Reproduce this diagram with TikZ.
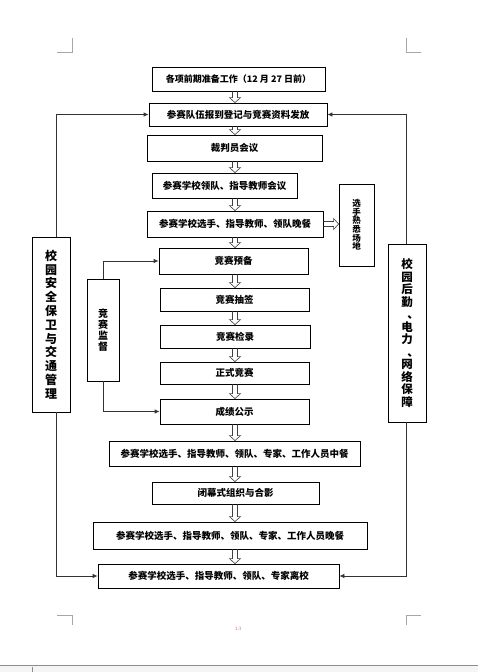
\documentclass[tikz,border=0pt]{standalone}
\usepackage{fontspec}
\newfontfamily\cjk{Noto Sans CJK SC}
\usetikzlibrary{arrows.meta,calc}
\definecolor{pgnum}{RGB}{200,110,100}
\begin{document}
\begin{tikzpicture}[x=1pt,y=-1pt,
  box/.style={draw=black, line width=0.8pt, fill=white, inner sep=0pt, align=center,
    font=\cjk\bfseries\fontsize{9.5}{11}\selectfont},
  vbox/.style={box, font=\cjk\bfseries\fontsize{12}{13.8}\selectfont},
  conn/.style={draw=black!80, line width=0.8pt, -{Latex[length=5pt,width=4.5pt]}},
  hollow/.style={draw=black!75, line width=0.6pt,
    to path={let \p1=(\tikztostart), \p2=(\tikztotarget), \p3=(ax) in
      (\x3-2.5pt,\y1) -- (\x3-2.5pt,\y2+5pt) -- (\x3-5.5pt,\y2+5pt) -- (\x3,\y2)
      -- (\x3+5.5pt,\y2+5pt) -- (\x3+2.5pt,\y2+5pt) -- (\x3+2.5pt,\y1)}},
  hollowh/.style={draw=black!75, line width=0.6pt,
    to path={let \p1=(\tikztostart), \p2=(\tikztotarget) in
      (\x1,\y1+2.5pt) -- (\x2-5pt,\y1+2.5pt) -- (\x2-5pt,\y1+5.5pt) -- (\x2,\y1)
      -- (\x2-5pt,\y1-5.5pt) -- (\x2-5pt,\y1-2.5pt) -- (\x1,\y1-2.5pt)}},
  cropm/.style={draw=black!35, line width=0.7pt}
]
\useasboundingbox (0,0) rectangle (478,672);
\fill[white] (0,0) rectangle (478,672);

% crop marks
\draw[cropm] (57,52) -- (72,52) -- (72,38);
\draw[cropm] (421,52) -- (406,52) -- (406,38);
\draw[cropm] (57,615) -- (72,615) -- (72,625);
\draw[cropm] (421,615) -- (406,615) -- (406,625);

% bottom status bar
\fill[black!4] (0,665) rectangle (478,672);
\draw[black!45, line width=0.6pt] (0,665) -- (478,665);
\draw[black!45, line width=0.6pt] (32,667) -- (32,672);

\coordinate (ax) at (235,0);
\coordinate (lx) at (56,0);
\coordinate (rx) at (406,0);

% main column
\node[box, font=\cjk\bfseries\fontsize{9}{11}\selectfont, minimum width=173, minimum height=24] (b1) at (238.5,79) {各项前期准备工作（12 月 27 日前）};
\node[box, minimum width=178, minimum height=23] (b2) at (238,114.5) {参赛队伍报到登记与竞赛资料发放};
\node[box, minimum width=175, minimum height=26] (b3) at (234.5,148) {裁判员会议};
\node[box, minimum width=145, minimum height=25] (b4) at (224.5,185.5) {参赛学校领队、指导教师会议};
\node[box, minimum width=176, minimum height=26] (b5) at (235,224) {参赛学校选手、指导教师、领队晚餐};
\node[box, font=\cjk\bfseries\fontsize{8.5}{8.6}\selectfont, minimum width=35, minimum height=82] (b6) at (356.5,225) {选\\手\\熟\\悉\\场\\地};
\node[box, minimum width=149, minimum height=26] (b7) at (233.5,261) {竞赛预备};
\node[box, minimum width=149, minimum height=23] (b8) at (234.5,299.5) {竞赛抽签};
\node[box, minimum width=150, minimum height=23] (b9) at (235,336.5) {竞赛检录};
\node[box, minimum width=149, minimum height=22] (b10) at (234.5,373) {正式竞赛};
\node[box, minimum width=149, minimum height=25] (b11) at (234.5,411.5) {成绩公示};
\node[box, minimum width=251, minimum height=25] (b13) at (234.5,453.5) {参赛学校选手、指导教师、领队、专家、工作人员中餐};
\node[box, minimum width=167, minimum height=22] (b14) at (235.5,493) {闭幕式组织与合影};
\node[box, minimum width=274, minimum height=27] (b15) at (230,535.5) {参赛学校选手、指导教师、领队、专家、工作人员晚餐};
\node[box, minimum width=241, minimum height=24] (b16) at (218.5,576) {参赛学校选手、指导教师、领队、专家离校};

% side boxes
\node[box, font=\cjk\bfseries\fontsize{10}{11}\selectfont, minimum width=32, minimum height=102] (jd) at (103,330) {竞\\赛\\监\\督};
\node[vbox, minimum width=38, minimum height=175] (lb) at (51,324.5) {校\\园\\安\\全\\保\\卫\\与\\交\\通\\管\\理};
\node[vbox, font=\cjk\bfseries\fontsize{11.5}{12.5}\selectfont, minimum width=38, minimum height=178] (rb) at (407,333) {校\\园\\后\\勤\\\kern12pt、\\电\\力\\\kern12pt、\\网\\络\\保\\障};

% hollow flow arrows
\draw[hollow] (b1.south) to (b2.north);
\draw[hollow] (b2.south) to (b3.north);
\draw[hollow] (b3.south) to (b4.north);
\draw[hollow] (b4.south) to (b5.north);
\draw[hollow] (b5.south) to (b7.north);
\draw[hollow] (b7.south) to (b8.north);
\draw[hollow] (b8.south) to (b9.north);
\draw[hollow] (b9.south) to (b10.north);
\draw[hollow] (b10.south) to (b11.north);
\draw[hollow] (b11.south) to (b13.north);
\draw[hollow] (b13.south) to (b14.north);
\draw[hollow] (b14.south) to (b15.north);
\draw[hollow] (b15.south) to (b16.north);
\draw[hollowh] (b5.east) to (b6.west);

% connectors
\draw[conn] (lb.north -| lx) |- (b2.west);
\draw[conn] (lb.south -| lx) |- (b16.west);
\draw[conn] (rb.north -| rx) |- (b2.east);
\draw[conn] (rb.south -| rx) |- (b16.east);
\draw[conn] (jd.north) |- (b7.west);
\draw[conn] (jd.south) |- (b11.west);

% page number
\node[font=\fontsize{5}{6}\selectfont, text=pgnum, inner sep=0pt] (pg) at (238,629) {13};
\end{tikzpicture}
\end{document}
